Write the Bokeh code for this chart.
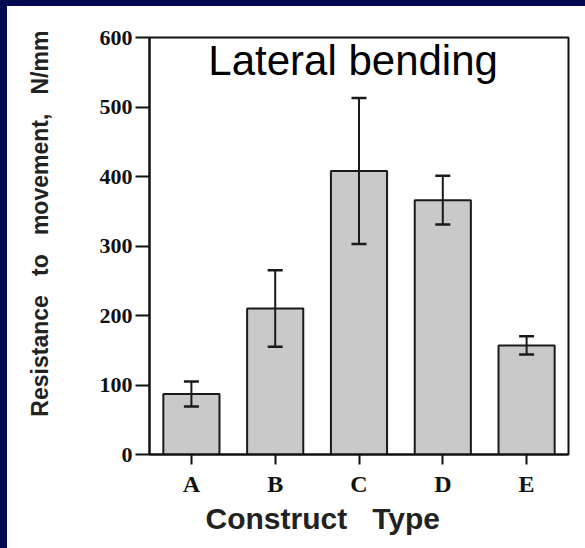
from bokeh.plotting import figure
from bokeh.models import (ColumnDataSource, FactorRange, Range1d, Whisker, TeeHead,
                          Label, FixedTicker, Title)
from bokeh.embed import file_html
from bokeh.resources import INLINE

# ---- data ----
constructs = ["A", "B", "C", "D", "E"]
resistance = [87, 210, 408, 366, 157]        # N/mm, bar heights
resistance_err = [18, 55, 105, 35, 13]       # +/- error bar half-lengths
y_ticks = [0, 100, 200, 300, 400, 500, 600]
title_text = "Lateral bending"
GAP = " \u00a0\u00a0"
x_title = "Construct" + GAP + "Type"
y_title = "Resistance" + GAP + "to" + GAP + "movement," + GAP + "N/mm"

upper = [v + e for v, e in zip(resistance, resistance_err)]
lower = [v - e for v, e in zip(resistance, resistance_err)]
src = ColumnDataSource(dict(x=constructs, top=resistance, upper=upper, lower=lower))

NAVY = "#020852"
p = figure(x_range=FactorRange(*constructs), y_range=Range1d(0, 600),
           width=585, height=548, output_backend="svg", toolbar_location=None,
           min_border_left=149, min_border_right=17, min_border_top=37,
           min_border_bottom=94)
p.styles = {
    "background": (f"linear-gradient({NAVY},{NAVY}) left top / 100% 6px no-repeat, "
                   f"linear-gradient({NAVY},{NAVY}) left top / 7px 100% no-repeat, white"),
}
p.background_fill_color = "white"
p.border_fill_color = "white"
p.border_fill_alpha = 0
p.outline_line_color = "#111111"
p.outline_line_width = 2
p.xgrid.visible = False
p.ygrid.visible = False

p.vbar(x="x", top="top", width=0.67, source=src, fill_color="#c9c9c9",
       line_color="#1a1a1a", line_width=2)

w = Whisker(base="x", upper="upper", lower="lower", source=src, level="overlay",
            line_color="#1a1a1a", line_width=2,
            upper_head=TeeHead(size=15, line_color="#1a1a1a", line_width=2.5),
            lower_head=TeeHead(size=15, line_color="#1a1a1a", line_width=2.5))
p.add_layout(w)

for ax in (p.xaxis[0], p.yaxis[0]):
    ax.axis_line_width = 2
    ax.axis_line_color = "#111111"
    ax.major_tick_line_width = 2
    ax.major_tick_line_color = "#111111"
    ax.major_tick_in = 0
    ax.minor_tick_line_color = None
    ax.major_label_text_font = "Liberation Serif"
    ax.major_label_text_font_style = "bold"
    ax.major_label_text_color = "#111111"

p.xaxis.major_label_text_font_size = "24px"
p.yaxis.major_label_text_font_size = "22px"
p.xaxis.major_tick_out = 10
p.xaxis.major_label_standoff = 6
p.yaxis.major_tick_out = 14
p.yaxis.major_label_standoff = 3
p.yaxis.ticker = FixedTicker(ticks=y_ticks)

# y title as axis label; leading no-break spaces lift it as in the reference
p.yaxis.axis_label = "\u00a0" * 7 + y_title
p.yaxis.axis_label_standoff = 44
p.yaxis.axis_label_text_font = "Liberation Sans"
p.yaxis.axis_label_text_font_style = "bold"
p.yaxis.axis_label_text_font_size = "23px"
p.yaxis.axis_label_text_color = "#222222"

p.add_layout(Label(x=2.43, y=567, text=title_text, text_align="center",
                   text_baseline="alphabetic", text_font="Liberation Sans",
                   text_font_size="42px", text_color="black"))

p.add_layout(Title(text=x_title, align="left", offset=56, standoff=0,
                   text_font="Liberation Sans", text_font_style="bold",
                   text_font_size="30px", text_color="#222222"), "below")

open("out.html", "w").write(file_html(p, INLINE))
